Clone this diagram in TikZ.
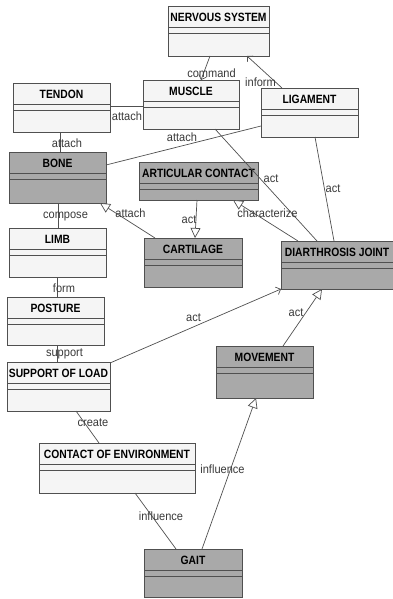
\documentclass[tikz,border=0pt]{standalone}
\usepackage{fontspec}
\setmainfont{Liberation Sans}
\newfontfamily\ttlfont[FakeStretch=0.86]{Liberation Sans}
\newfontfamily\lblfont[FakeStretch=0.92]{Liberation Sans}
\usetikzlibrary{arrows.meta}
\definecolor{lightf}{HTML}{F5F5F5}
\definecolor{darkf}{HTML}{A9A9A9}
\definecolor{linec}{HTML}{505050}
\definecolor{labc}{HTML}{3A3A3A}
\tikzset{
  cls/.style={draw=linec, line width=0.8pt, inner sep=0pt, outer sep=0pt, anchor=north west},
  light/.style={cls, fill=lightf},
  dark/.style={cls, fill=darkf},
  sepline/.style={draw=linec, line width=0.8pt},
  ttl/.style={inner sep=0pt, font=\ttlfont\bfseries\fontsize{12}{14}\selectfont, text=black},
  lbl/.style={inner sep=0pt, font=\lblfont\fontsize{12}{14}\selectfont, text=labc},
  conn/.style={draw=linec, line width=0.7pt},
  gen/.style={conn, -{Triangle[open, length=10pt, width=10pt, fill=white]}},
  nav/.style={conn, -{Straight Barb[length=4pt, width=8pt]}}
}
\newcommand\compart[2]{%
  \draw[sepline] ([yshift=-21pt]#1.north west) -- ([yshift=-21pt]#1.north east);
  \draw[sepline] ([yshift=-27pt]#1.north west) -- ([yshift=-27pt]#1.north east);
  \node[ttl] (#1-t) at ([yshift=-11.5pt]#1.north) {#2};}
\begin{document}
\begin{tikzpicture}[x=1pt, y=-1pt]
\useasboundingbox[fill=white] (0,0) rectangle (392,599);
% classes
\node[light, minimum width=101pt, minimum height=50pt] (ns) at (168,6) {};
\compart{ns}{NERVOUS SYSTEM}
\node[light, minimum width=97pt, minimum height=49pt] (tendon) at (13,83) {};
\compart{tendon}{TENDON}
\node[light, minimum width=96pt, minimum height=49pt] (muscle) at (143,80) {};
\compart{muscle}{MUSCLE}
\node[light, minimum width=97pt, minimum height=49pt] (lig) at (261,88) {};
\compart{lig}{LIGAMENT}
\node[dark, minimum width=97pt, minimum height=51pt] (bone) at (9,152) {};
\compart{bone}{BONE}
\node[dark, minimum width=119pt, minimum height=38pt] (artic) at (139,162) {};
\compart{artic}{ARTICULAR CONTACT}
\node[light, minimum width=97pt, minimum height=49pt] (limb) at (9,228) {};
\compart{limb}{LIMB}
\node[dark, minimum width=98pt, minimum height=49pt] (cart) at (144,238) {};
\compart{cart}{CARTILAGE}
\node[dark, minimum width=112pt, minimum height=48pt] (diar) at (281,241) {};
\compart{diar}{DIARTHROSIS JOINT}
\node[light, minimum width=97pt, minimum height=48pt] (posture) at (7,297) {};
\compart{posture}{POSTURE}
\node[light, minimum width=103pt, minimum height=49pt] (sol) at (7,362) {};
\compart{sol}{SUPPORT OF LOAD}
\node[dark, minimum width=97pt, minimum height=52pt] (mov) at (216,346) {};
\compart{mov}{MOVEMENT}
\node[light, minimum width=156pt, minimum height=50pt] (coe) at (39,443) {};
\compart{coe}{CONTACT OF ENVIRONMENT}
\node[dark, minimum width=98pt, minimum height=48pt] (gait) at (144,549) {};
\compart{gait}{GAIT}
% connectors
\draw[nav] ([xshift=-8.5pt]ns.south) -- ([xshift=10pt]muscle.north);
\draw[nav] ([xshift=-27.5pt]lig.north) -- ([xshift=28.5pt]ns.south);
\draw[conn] ([yshift=1.5pt]tendon.east) -- ([yshift=-1.5pt]muscle.west);
\draw[conn] ([xshift=-1.5pt]tendon.south) -- ([xshift=2.5pt]bone.north);
\draw[conn] ([yshift=-13.5pt]lig.west) -- ([yshift=12.5pt]bone.east);
\draw[conn] ([xshift=24pt]muscle.south) -- ([xshift=-20pt]diar.north);
\draw[conn] ([xshift=5.5pt]lig.south) -- ([xshift=-3pt]diar.north);
\draw[conn] ([xshift=0.5pt]bone.south) -- ([xshift=0.5pt]limb.north);
\draw[gen] ([xshift=-38pt]cart.north) -- ([xshift=42.5pt]bone.south);
\draw[gen] ([xshift=-1.5pt]artic.south) -- ([xshift=2pt]cart.north);
\draw[gen] ([xshift=-39pt]diar.north) -- ([xshift=34.5pt]artic.south);
\draw[conn] ([xshift=-0.5pt]limb.south) -- ([xshift=1.5pt]posture.north);
\draw[conn] ([xshift=1.5pt]posture.south) -- ([xshift=-1.5pt]sol.north);
\draw[nav] ([yshift=-1pt]sol.north east) -- (diar.south west);
\draw[gen] ([xshift=18.5pt]mov.north) -- ([xshift=-15pt]diar.south);
\draw[conn] ([xshift=17.5pt]sol.south) -- ([xshift=-18pt]coe.north);
\draw[conn] ([xshift=18pt]coe.south) -- ([xshift=-17pt]gait.north);
\draw[gen] ([xshift=9pt]gait.north) -- ([xshift=-8.5pt]mov.south);
% labels
\node[lbl] (l1) at (211.5,73) {command};
\node[lbl] (l2) at (260.5,82) {inform};
\node[lbl] (l3) at (127,116) {attach};
\node[lbl] (l4) at (67,143) {attach};
\node[lbl] (l5) at (182,137) {attach};
\node[lbl] (l6) at (271,179) {act};
\node[lbl] (l7) at (333,189) {act};
\node[lbl] (l8) at (65.5,217) {compose};
\node[lbl] (l9) at (130.5,213) {attach};
\node[lbl] (l10) at (189,220) {act};
\node[lbl] (l11) at (267.5,213) {characterize};
\node[lbl] (l12) at (64,288) {form};
\node[lbl] (l13) at (64.5,354) {support};
\node[lbl] (l14) at (193.5,318) {act};
\node[lbl] (l15) at (296,313) {act};
\node[lbl] (l16) at (93,423) {create};
\node[lbl] (l17) at (222.5,469) {influence};
\node[lbl] (l18) at (161,516) {influence};
\end{tikzpicture}
\end{document}
